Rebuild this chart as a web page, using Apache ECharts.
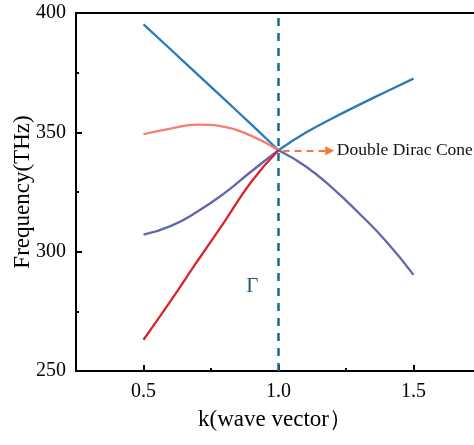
<html>
<head>
<meta charset="utf-8" />
<title></title>
<script type="text/javascript" src="https://cdn.jsdelivr.net/npm/echarts/dist/echarts.min.js"></script>
<style>
	html, body, #main {
		padding: 0;
		margin: 0;
		width: 474px;
		height: 445px;
		background: #fff;
	}
</style>
</head>
<body>
<div id="main"></div>
<script type="text/javascript">
	// band data
	var kLeft = [0.5, 0.6, 0.7, 0.8, 0.9, 1.0];
	var kRight = [1.0, 1.1, 1.2, 1.3, 1.4, 1.5];
	var blueLeft = [395.2, 384.8, 374.3, 363.8, 353.2, 342.5];
	var blueRight = [342.5, 349.8, 355.9, 361.6, 367.1, 372.5];
	var pinkLeft = [349.2, 351.6, 353.2, 352.3, 348.5, 342.5];
	var purpleLeft = [307.1, 310.7, 316.8, 324.5, 333.7, 342.5];
	var purpleRight = [342.5, 335.8, 326.6, 315.9, 304.2, 290.3];
	var redLeft = [263.1, 279.3, 296.1, 312.6, 329.4, 342.5];

	var xTicks = [0.5, 1.0, 1.5];
	var xMinorTicks = [0.75, 1.25];
	var diracPoint = [1.0, 342.3];

	var font = 'Liberation Serif, Times New Roman, serif';

	function pairs(xs, ys) {
		return xs.map(function (x, i) { return [x, ys[i]]; });
	}

	function band(data, color) {
		return {
			type: 'line',
			data: data,
			smooth: 0.5,
			symbol: 'none',
			lineStyle: { color: color, width: 2.3 },
			z: 3
		};
	}

	// the figure is cut off at the right, so the x range ends where the page ends
	var xMin = 0.25, xMax = 1.724;

	var chart = echarts.init(document.getElementById('main'));
	var option = {
		animation: false,
		grid: { left: 76, top: 13, right: 0, height: 358, outerBoundsMode: 'none', containLabel: false },
		xAxis: [{
			type: 'value', min: xMin, max: xMax, position: 'bottom',
			name: 'k(wave vector）', nameLocation: 'middle', nameGap: 37, nameMoveOverlap: false,
			nameTextStyle: { color: '#000', fontSize: 23, fontFamily: font },
			axisLine: { lineStyle: { color: '#000', width: 2 } },
			axisTick: { inside: true, length: 6, customValues: xTicks, lineStyle: { color: '#000', width: 2 } },
			axisLabel: { customValues: xTicks, margin: 11, color: '#000', fontSize: 20, fontFamily: font,
				formatter: function (v) { return v.toFixed(1); } },
			splitLine: { show: false }
		}, {
			type: 'value', min: xMin, max: xMax, position: 'bottom',
			axisLine: { show: false },
			axisTick: { inside: true, length: 3, customValues: xMinorTicks, lineStyle: { color: '#000', width: 2 } },
			axisLabel: { show: false },
			splitLine: { show: false }
		}, {
			type: 'value', min: xMin, max: xMax, position: 'top',
			axisLine: { lineStyle: { color: '#000', width: 2 } },
			axisTick: { show: false },
			axisLabel: { show: false },
			splitLine: { show: false }
		}],
		yAxis: [{
			type: 'value', min: 250, max: 400, interval: 50,
			name: 'Frequency(THz)', nameLocation: 'middle', nameGap: 42, nameMoveOverlap: false,
			nameTextStyle: { color: '#000', fontSize: 23, fontFamily: font },
			axisLine: { show: true, lineStyle: { color: '#000', width: 2 } },
			axisTick: { inside: true, length: 6, lineStyle: { color: '#000', width: 2 } },
			minorTick: { show: true, splitNumber: 2, length: 3, lineStyle: { color: '#000', width: 2 } },
			axisLabel: { margin: 10, color: '#000', fontSize: 20, fontFamily: font },
			splitLine: { show: false }
		}],
		series: [
			band(pairs(kLeft, blueLeft), '#2a7ab9'),
			band(pairs(kRight, blueRight), '#2a7ab9'),
			band(pairs(kLeft, pinkLeft), '#f47f72'),
			band(pairs(kLeft, purpleLeft), '#6266ad'),
			band(pairs(kRight, purpleRight), '#6266ad'),
			{
				type: 'line',
				data: pairs(kLeft, redLeft),
				smooth: 0.5,
				symbol: 'none',
				lineStyle: { color: '#d7262a', width: 2.3 },
				z: 3,
				markLine: {
					silent: true,
					animation: false,
					data: [
						[{ xAxis: 1.0, yAxis: 250, symbol: 'none' }, { xAxis: 1.0, yAxis: 400, symbol: 'none',
							lineStyle: { color: '#1a6a92', width: 2.5, type: [8, 7] }, label: { show: false } }],
						[{ coord: [1.015, diracPoint[1]], symbol: 'none' }, { coord: [1.19, diracPoint[1]], symbol: 'triangle', symbolSize: [9, 9],
							lineStyle: { color: '#f07c3a', width: 2, type: [7, 5] },
							label: { show: true, position: 'end', distance: 7, formatter: 'Double Dirac Cone',
								color: '#111', fontSize: 17.5, fontFamily: font } }]
					]
				},
				markPoint: {
					silent: true,
					symbol: 'circle',
					symbolSize: 0,
					data: [{ coord: [0.903, 285.4], label: { show: true, formatter: 'Γ', position: 'inside',
						color: '#1e5a78', fontSize: 21, fontFamily: font } }]
				}
			}
		]
	};
	chart.setOption(option);
</script>
</body>
</html>
